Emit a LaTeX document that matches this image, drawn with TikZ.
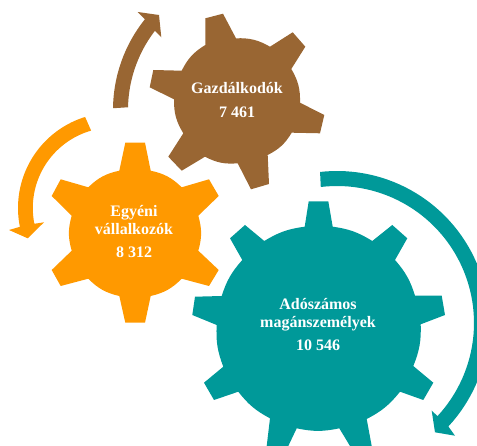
\documentclass[tikz,border=0pt]{standalone}
\usepackage{fontspec}
\setmainfont{Liberation Serif}
\definecolor{gearbrown}{HTML}{996633}
\definecolor{gearorange}{HTML}{FF9900}
\definecolor{gearteal}{HTML}{009999}
\tikzset{
  gearlabel/.style={text=white,font=\fontsize{16}{18}\selectfont\bfseries,align=center,inner sep=0pt},
  brownfill/.style={fill=gearbrown,draw=none},
  orangefill/.style={fill=gearorange,draw=none},
  tealfill/.style={fill=gearteal,draw=none},
  rimsix/.style={bend left=16},
  rimnine/.style={bend left=12}
}
\begin{document}
\begin{tikzpicture}[x=1pt,y=-1pt]
\useasboundingbox (0,0) rectangle (477,446);
\clip (0,0) rectangle (477,446);
% brown gear
\fill[brownfill] (205.3,45)--(205.3,18.3)--(223,13.7)--(236,38.3)
 to[rimsix] (270,46.7)--(292.7,32.3)--(305.3,46.7)--(291.3,69)
 to[rimsix] (300,102.7)--(324.3,115)--(320,133.3)--(291.7,132.7)
 to[rimsix] (267.7,155)--(269,184)--(251,189.3)--(237.7,163.3)
 to[rimsix] (205,156.7)--(181.7,170.7)--(168.3,156.7)--(183.3,133.3)
 to[rimsix] (174,99.3)--(149.7,87.3)--(153.3,70)--(181.7,70.7)
 to[rimsix] (205.3,45)--cycle;
% orange gear
\fill[orangefill] (119.3,170.7)--(125.3,142.7)--(145,142.7)--(150.7,170.7)
 to[rimsix] (181.7,187.3)--(209,179.3)--(218.7,196)--(198.3,215.7)
 to[rimsix] (198.3,250.7)--(218.7,270)--(209,286)--(181.7,278.7)
 to[rimsix] (150.7,296)--(145,322.7)--(125.3,322.7)--(119.3,296)
 to[rimsix] (88.3,278.7)--(60.7,286)--(51.7,270)--(71.7,250.7)
 to[rimsix] (71.7,215.7)--(51.7,196)--(60.7,179.3)--(88.3,187.3)
 to[rimsix] (119.3,170.7)--cycle;
% teal gear
\fill[tealfill] (304.7,226.7)--(308.7,201.3)--(328.3,201.3)--(332.7,226.7)
 to[rimnine] (372.3,241)--(392.3,225)--(407.3,238.3)--(395,260)
 to[rimnine] (415,295.7)--(441.7,295.7)--(445,315)--(420.7,324.3)
 to[rimnine] (413.3,366)--(433.3,382.7)--(423.3,400)--(400,391.7)
 to[rimnine] (366.7,419)--(371.7,446)--(350,446)--(339.3,428.3)
 to[rimnine] (296.7,428.3)--(288.3,446)--(266.7,446)--(270,418.3)
 to[rimnine] (238.3,391.7)--(214,400)--(204,382.7)--(223.3,366.7)
 to[rimnine] (216.7,325)--(192.3,315)--(195,296.7)--(221.7,296)
 to[rimnine] (242.3,260)--(230,238.3)--(245,225)--(264.3,241)
 to[rimnine] (304.7,226.7)--cycle;
% arrows
\fill[brownfill] plot[domain=180.7:218.7,samples=30] ({258+145*cos(\x)},{110+145*sin(\x)})
  -- (137.7,12) -- (159,15) -- (161.3,37.3)
  -- plot[domain=217.5:181.2,samples=30] ({258+130*cos(\x)},{110+130*sin(\x)}) -- cycle;
\fill[orangefill] plot[domain=252.8:168.6,samples=40] ({113.3+95.3*cos(\x)},{208+95.3*sin(\x)})
  -- (9,230) -- (27.7,238.3) -- (44,222.3)
  -- plot[domain=168.7:254,samples=40] ({113.3+80.5*cos(\x)},{208+80.5*sin(\x)}) -- cycle;
\fill[tealfill] plot[domain=-96.4:42.9,samples=60] ({337+152*cos(\x)},{323+152*sin(\x)})
  -- (455,435.7) -- (435,432.3) -- (431.7,410.7)
  -- plot[domain=42.8:-96.8,samples=60] ({337+137*cos(\x)},{323+137*sin(\x)}) -- cycle;
% labels
\node[gearlabel] (gazd) at (237,100) {Gazdálkodók\\[6pt]7 461};
\node[gearlabel] (egy) at (134,232) {Egyéni\\vállalkozók\\[5pt]8 312};
\node[gearlabel] (ado) at (318,325) {Adószámos\\magánszemélyek\\[5pt]10 546};
\end{tikzpicture}
\end{document}
